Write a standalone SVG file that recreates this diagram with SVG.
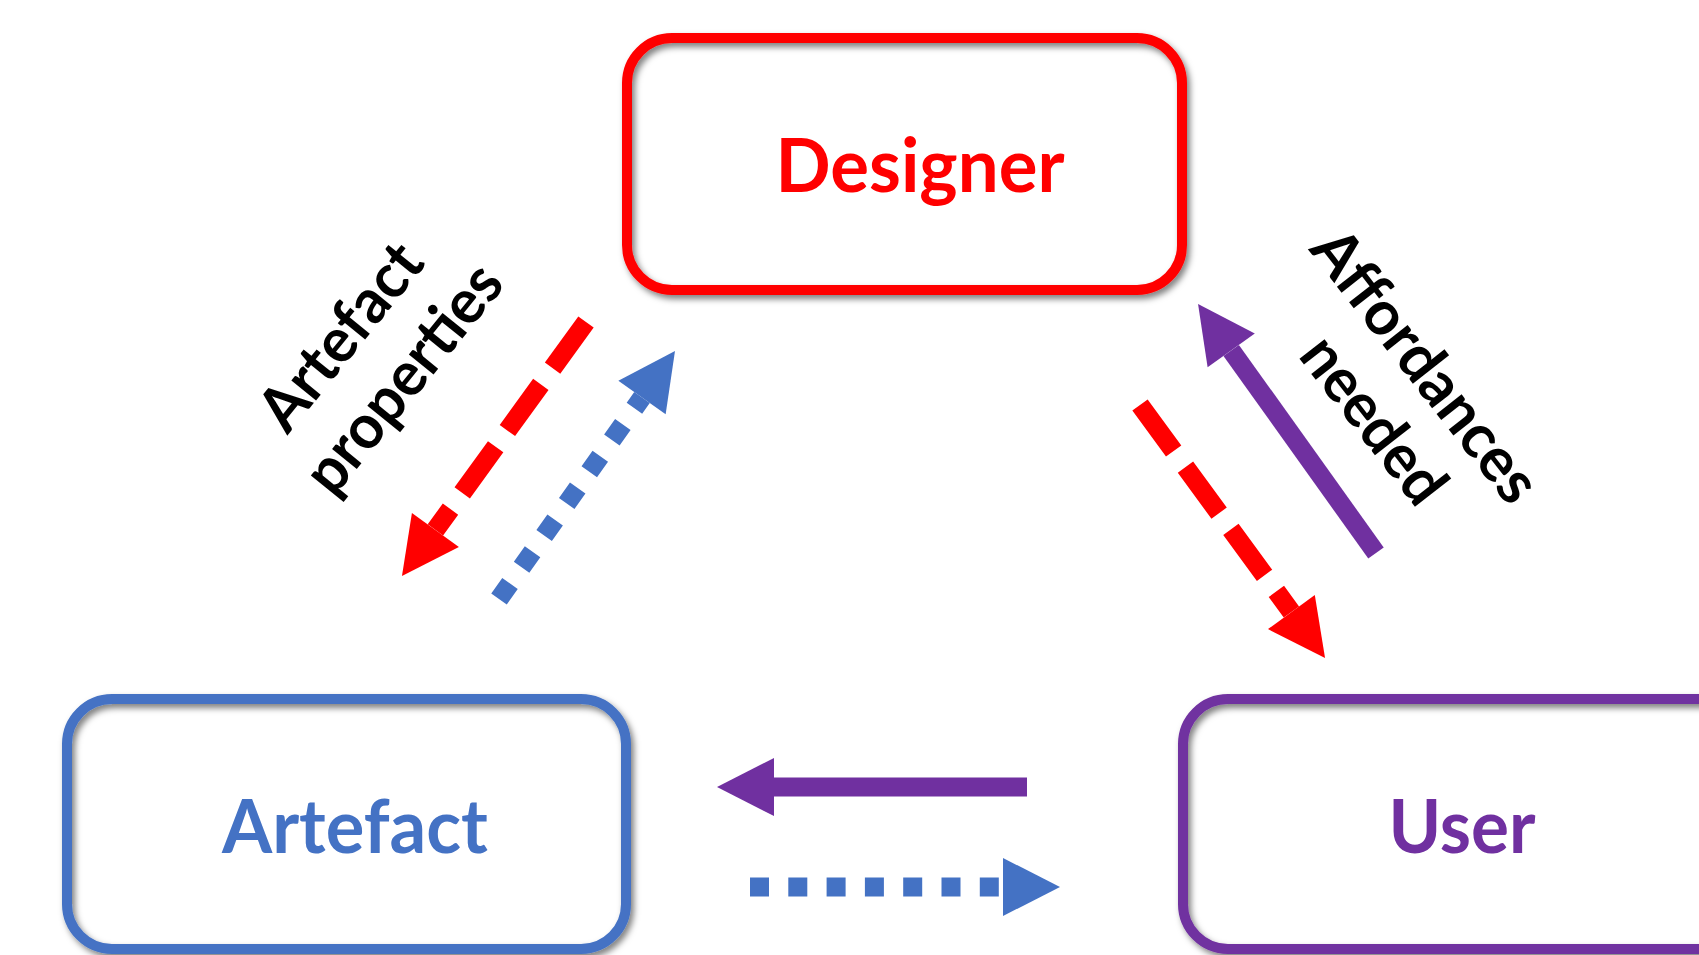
<svg xmlns="http://www.w3.org/2000/svg" width="1699" height="955" viewBox="0 0 1699 955">
<defs>
<style>
.box{fill:none;stroke-width:10;filter:url(#sh)}
.lbl{font-family:Lato,"Liberation Sans",sans-serif;font-weight:bold;font-size:75px;text-anchor:middle}
.rot{font-family:Lato,"Liberation Sans",sans-serif;font-weight:bold;font-size:62px;text-anchor:middle;fill:#000}
.ln{fill:none;stroke-width:19;stroke-linecap:butt}
.red{stroke:#FF0000;stroke-dasharray:57 20;marker-end:url(#mr)}
.blue{stroke:#4472C4;marker-end:url(#mb)}
.pur{stroke:#7030A0;marker-end:url(#mp)}
</style>
<filter id="sh" x="-10%" y="-10%" width="120%" height="120%">
<feDropShadow dx="3" dy="4" stdDeviation="3" flood-color="#000" flood-opacity="0.5"/>
</filter>
<marker id="mr" markerUnits="userSpaceOnUse" markerWidth="58" markerHeight="58" refX="0" refY="29" orient="auto" overflow="visible"><path d="M0,0 L57,29 L0,58 Z" fill="#FF0000"/></marker>
<marker id="mb" markerUnits="userSpaceOnUse" markerWidth="58" markerHeight="58" refX="0" refY="29" orient="auto" overflow="visible"><path d="M0,0 L57,29 L0,58 Z" fill="#4472C4"/></marker>
<marker id="mp" markerUnits="userSpaceOnUse" markerWidth="58" markerHeight="58" refX="0" refY="29" orient="auto" overflow="visible"><path d="M0,0 L57,29 L0,58 Z" fill="#7030A0"/></marker>
</defs>
<rect width="1699" height="955" fill="#fff"/>
<g id="designer">
<rect class="box" x="627" y="38" width="555" height="252" rx="45" stroke="#FF0000"/>
<text class="lbl" x="920" y="192" fill="#FF0000" textLength="289" lengthAdjust="spacingAndGlyphs">Designer</text>
</g>
<g id="artefact">
<rect class="box" x="67" y="699" width="559" height="250" rx="45" stroke="#4472C4"/>
<text class="lbl" x="355" y="853" fill="#4472C4" textLength="266" lengthAdjust="spacingAndGlyphs">Artefact</text>
</g>
<g id="user">
<rect class="box" x="1183" y="699" width="580" height="250" rx="45" stroke="#7030A0"/>
<text class="lbl" x="1462" y="853" fill="#7030A0" textLength="147" lengthAdjust="spacingAndGlyphs">User</text>
</g>
<g id="connectors">
<path class="ln red" d="M586,322 L435.4,529.9"/>
<path class="ln blue" style="stroke-dasharray:19 20" d="M499,599 L642,397.5"/>
<path class="ln red" d="M1140,405 L1291.4,612"/>
<path class="ln pur" d="M1376,553 L1231.2,350.4"/>
<path class="ln pur" d="M1027,787 L774,787"/>
<path class="ln blue" style="stroke-dasharray:19 19.3" d="M750,887 L1003,887"/>
</g>
<g id="label-artefact-properties" transform="translate(419.7,391.4) rotate(-51)">
<text class="rot" x="-7" y="-75" textLength="221" lengthAdjust="spacingAndGlyphs">Artefact</text>
<text class="rot" x="0" y="0" textLength="275" lengthAdjust="spacingAndGlyphs">properties</text>
</g>
<g id="label-affordances-needed" transform="translate(1410.8,381.1) rotate(52)">
<text class="rot" x="-3" y="0" textLength="328" lengthAdjust="spacingAndGlyphs">Affordances</text>
<text class="rot" x="7.7" y="74" textLength="195" lengthAdjust="spacingAndGlyphs">needed</text>
</g>
</svg>
